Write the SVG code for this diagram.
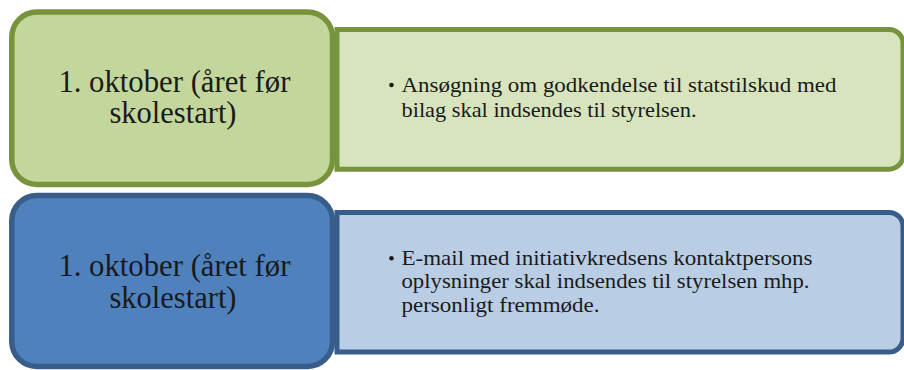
<svg xmlns="http://www.w3.org/2000/svg" width="904" height="370" viewBox="0 0 904 370">
<style>
.lbl{font-size:30.5px;fill:#1a1a1a;text-anchor:middle}
.txt{font-size:21px;fill:#1a1a1a}
.g1{fill:#C3D69B;stroke:#77933C;stroke-width:5.5}
.g2{fill:#D7E4BD;stroke:#77933C;stroke-width:5}
.b1{fill:#4F81BD;stroke:#385D8A;stroke-width:5.5}
.b2{fill:#B9CDE5;stroke:#385D8A;stroke-width:5}
.dot{fill:#1a1a1a}
</style>
<rect width="904" height="370" fill="#ffffff"/>
<g font-family="Liberation Serif, DejaVu Serif, serif">
<g id="green-detail">
<path class="g2" d="M337 29.5 H889 A14 14 0 0 1 903 43.5 V155.2 A14 14 0 0 1 889 169.2 H337 Z"/>
<circle class="dot" cx="391.5" cy="85" r="2.3"/>
<text class="txt" x="401.5" y="92.3" textLength="435" lengthAdjust="spacingAndGlyphs">Ansøgning om godkendelse til statstilskud med</text>
<text class="txt" x="401.5" y="116.7" textLength="295" lengthAdjust="spacingAndGlyphs">bilag skal indsendes til styrelsen.</text>
</g>
<g id="green-date">
<rect class="g1" x="11.8" y="12" width="320.7" height="172.5" rx="25" ry="25"/>
<text class="lbl" x="174.4" y="91.7" textLength="232" lengthAdjust="spacingAndGlyphs">1. oktober (året før</text>
<text class="lbl" x="173" y="123.3">skolestart)</text>
</g>
<g id="blue-detail">
<path class="b2" d="M337 212.5 H889 A14 14 0 0 1 903 226.5 V338 A14 14 0 0 1 889 352 H337 Z"/>
<circle class="dot" cx="391.5" cy="258.3" r="2.3"/>
<text class="txt" x="401.5" y="265" textLength="411" lengthAdjust="spacingAndGlyphs">E-mail med initiativkredsens kontaktpersons</text>
<text class="txt" x="401.5" y="288.3" textLength="408" lengthAdjust="spacingAndGlyphs">oplysninger skal indsendes til styrelsen mhp.</text>
<text class="txt" x="401.5" y="311.7" textLength="198" lengthAdjust="spacingAndGlyphs">personligt fremmøde.</text>
</g>
<g id="blue-date">
<rect class="b1" x="11.8" y="195.5" width="320.7" height="171" rx="25" ry="25"/>
<text class="lbl" x="174.4" y="275.5" textLength="232" lengthAdjust="spacingAndGlyphs">1. oktober (året før</text>
<text class="lbl" x="173" y="307.5">skolestart)</text>
</g>
</g>
<g id="connectors"></g>
</svg>
